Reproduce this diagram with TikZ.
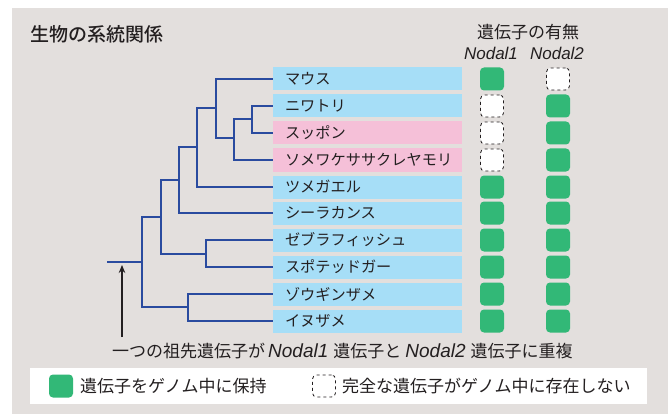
\documentclass[tikz,border=0pt]{standalone}
\usepackage{fontspec}
\setmainfont{Noto Sans CJK JP}
\newfontfamily\latin{Liberation Sans}
\newfontfamily\jpmed{Noto Sans CJK JP Medium}
\usetikzlibrary{arrows.meta}
\definecolor{bggray}{HTML}{E3DFDD}
\definecolor{lblue}{HTML}{A6DEF7}
\definecolor{lpink}{HTML}{F5C0D8}
\definecolor{gnode}{HTML}{32B877}
\definecolor{tblue}{HTML}{2A4B9F}
\definecolor{txt}{HTML}{231F20}
\tikzset{
  sp/.style={draw=none,inner ysep=0pt,inner xsep=12pt,outer sep=0pt,minimum width=189pt,minimum height=23pt,anchor=west,text width=165pt,align=left,font=\fontsize{15.2}{15}\selectfont,text=txt},
  spblue/.style={sp,fill=lblue},
  sppink/.style={sp,fill=lpink},
  has/.style={fill=gnode,rounded corners=4pt,minimum width=24pt,minimum height=23pt,inner sep=0pt},
  nohas/.style={fill=white,draw=txt,dashed,line width=0.8pt,rounded corners=4pt,minimum width=23pt,minimum height=22pt,inner sep=0pt},
  branch/.style={draw=tblue,line width=2.6pt},
  lbl/.style={text=txt,inner sep=0pt,font=\fontsize{17}{17}\selectfont},
}
\newcommand{\nd}[1]{{\latin\itshape #1}}
\newcommand{\ndbig}[1]{{\latin\itshape\fontsize{19}{19}\selectfont #1}}
\begin{document}
\begin{tikzpicture}[x=1pt,y=-1pt]
\useasboundingbox (0,0) rectangle (668,414);
\fill[bggray] (12,8) rectangle (668,414);
\node[lbl,anchor=west,font=\fontsize{19}{19}\selectfont\jpmed] (title) at (30,34) {生物の系統関係};
\node[lbl] (hdr) at (528,32) {遺伝子の有無};
\node[lbl] (h1) at (491,53.5) {\nd{Nodal1}};
\node[lbl] (h2) at (557,53.5) {\nd{Nodal2}};
% species
\node[spblue] (n1) at (273,79) {マウス};
\node[spblue] (n2) at (273,106) {ニワトリ};
\node[sppink] (n3) at (273,133) {スッポン};
\node[sppink] (n4) at (273,160) {ソメワケササクレヤモリ};
\node[spblue] (n5) at (273,187) {ツメガエル};
\node[spblue] (n6) at (273,213) {シーラカンス};
\node[spblue] (n7) at (273,240) {ゼブラフィッシュ};
\node[spblue] (n8) at (273,267) {スポテッドガー};
\node[spblue] (n9) at (273,294) {ゾウギンザメ};
\node[spblue] (n10) at (273,321) {イヌザメ};
% gene presence
\node[has] (a1) at (492,79) {};
\node[nohas] (b1) at (558,79) {};
\node[nohas] (a2) at (492,106) {};
\node[has] (b2) at (558,106) {};
\node[nohas] (a3) at (492,133) {};
\node[has] (b3) at (558,133) {};
\node[nohas] (a4) at (492,160) {};
\node[has] (b4) at (558,160) {};
\node[has] (a5) at (492,187) {};
\node[has] (b5) at (558,187) {};
\node[has] (a6) at (492,213) {};
\node[has] (b6) at (558,213) {};
\node[has] (a7) at (492,240) {};
\node[has] (b7) at (558,240) {};
\node[has] (a8) at (492,267) {};
\node[has] (b8) at (558,267) {};
\node[has] (a9) at (492,294) {};
\node[has] (b9) at (558,294) {};
\node[has] (a10) at (492,321) {};
\node[has] (b10) at (558,321) {};
% tree junctions
\coordinate (ja) at (252,119);
\coordinate (jb) at (234,138);
\coordinate (jc) at (216,108);
\coordinate (jd) at (197,147);
\coordinate (je) at (179,180);
\coordinate (jf) at (206,254);
\coordinate (jg) at (161,217);
\coordinate (jh) at (188,307);
\coordinate (jr) at (142,262);
\coordinate (root) at (107,262);
\draw[branch] (ja) |- (n2.west);
\draw[branch] (ja) |- (n3.west);
\draw[branch] (jb) |- (ja);
\draw[branch] (jb) |- (n4.west);
\draw[branch] (jc) |- (n1.west);
\draw[branch] (jc) |- (jb);
\draw[branch] (jd) |- (jc);
\draw[branch] (jd) |- (n5.west);
\draw[branch] (je) |- (jd);
\draw[branch] (je) |- (n6.west);
\draw[branch] (jf) |- (n7.west);
\draw[branch] (jf) |- (n8.west);
\draw[branch] (jg) |- (je);
\draw[branch] (jg) |- (jf);
\draw[branch] (jh) |- (n9.west);
\draw[branch] (jh) |- (n10.west);
\draw[branch] (jr) |- (jg);
\draw[branch] (jr) |- (jh);
\draw[branch] (root) -- (jr);
% caption and arrow
\node[lbl,anchor=west] (cap) at (112,351) {一つの祖先遺伝子が\hspace{3pt}\ndbig{Nodal1}\hspace{5pt}遺伝子と\hspace{4pt}\ndbig{Nodal2}\hspace{5pt}遺伝子に重複};
\coordinate (arrbase) at (122,337);
\coordinate (arrtip) at (122,265);
\draw[txt,line width=1.3pt,-{Stealth[length=8pt,width=6.5pt]}] (arrbase) -- (arrtip);
% legend
\fill[white] (30,368) rectangle (647,404);
\node[has] (lg1) at (61,386) {};
\node[lbl,anchor=west] (lt1) at (80,386) {遺伝子をゲノム中に保持};
\node[nohas] (lg2) at (324,386) {};
\node[lbl,anchor=west] (lt2) at (342,386) {完全な遺伝子がゲノム中に存在しない};
\end{tikzpicture}
\end{document}
